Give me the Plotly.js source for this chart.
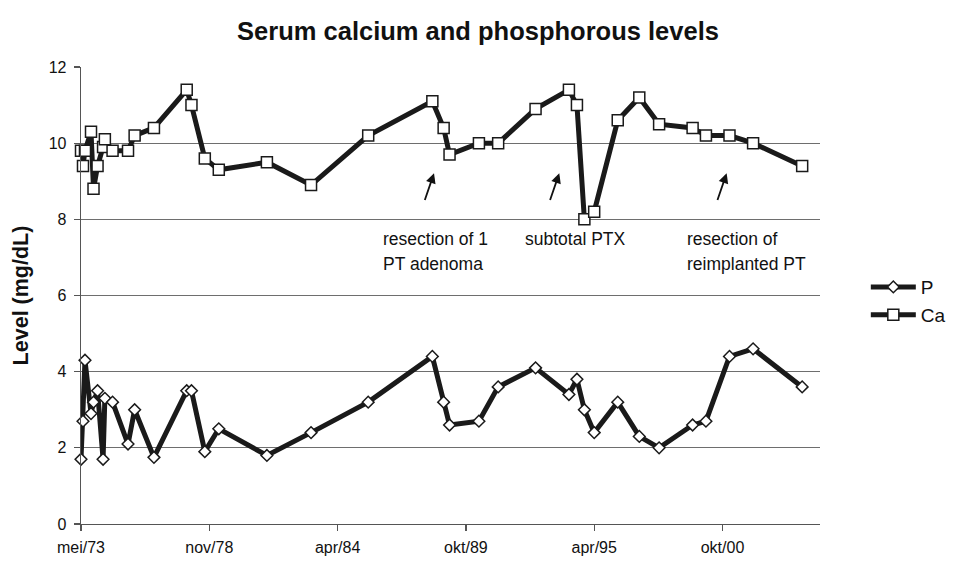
<!DOCTYPE html>
<html>
<head>
<meta charset="utf-8">
<script src="https://cdn.plot.ly/plotly-3.0.1.min.js"></script>
<style>html,body{margin:0;padding:0;background:#fff;}#chart{width:956px;height:572px;}</style>
</head>
<body>
<div id="chart"></div>
<script>
const dates = ["1973-05-17","1973-06-17","1973-07-18","1973-10-20","1973-11-28","1974-01-30","1974-04-26","1974-05-24","1974-09-21","1975-05-20","1975-08-31","1976-06-27","1977-11-20","1978-02-02","1978-08-29","1979-04-04","1981-04-23","1983-03-12","1985-08-19","1988-05-15","1988-11-07","1989-02-07","1990-05-11","1991-03-07","1992-10-10","1994-03-14","1994-07-17","1994-11-10","1995-04-12","1996-04-13","1997-03-15","1998-01-18","1999-06-24","2000-01-18","2001-01-19","2002-01-22","2004-02-26"];
// Phosphorous (mg/dL)
const phosphorous = [1.7,2.7,4.3,2.9,3.2,3.5,1.7,3.3,3.2,2.1,3.0,1.75,3.5,3.5,1.9,2.5,1.8,2.4,3.2,4.4,3.2,2.6,2.7,3.6,4.1,3.4,3.8,3.0,2.4,3.2,2.3,2.0,2.6,2.7,4.4,4.6,3.6];
// Calcium (mg/dL)
const calcium = [9.8,9.4,9.8,10.3,8.8,9.4,9.9,10.1,9.8,9.8,10.2,10.4,11.4,11.0,9.6,9.3,9.5,8.9,10.2,11.1,10.4,9.7,10.0,10.0,10.9,11.4,11.0,8.0,8.2,10.6,11.2,10.5,10.4,10.2,10.2,10.0,9.4];
// Axis ticks
const tickDates = ["1973-05-17","1978-11-07","1984-04-29","1989-10-20","1995-04-12","2000-10-02"];
const tickLabels = ["mei/73","nov/78","apr/84","okt/89","apr/95","okt/00"];
const seriesNames = ["P","Ca"];
const notes = [
  {text:"resection of 1", x:0.4056, y:0.624},
  {text:"PT adenoma", x:0.4056, y:0.570},
  {text:"subtotal PTX", x:0.5985, y:0.624},
  {text:"resection of", x:0.8173, y:0.624},
  {text:"reimplanted PT", x:0.8173, y:0.570}
];
const arrowTips = [0.4777, 0.6472, 0.8737];

const FONT = "Liberation Sans, Arial, sans-serif";
const ink = "#1a1a1a";

const traces = [
  {x: dates, y: phosphorous, name: seriesNames[0], type: "scatter", mode: "lines+markers",
   cliponaxis: false,
   line: {color: ink, width: 5},
   marker: {symbol: "diamond", size: 9, color: "#ffffff", line: {color: ink, width: 1.5}}},
  {x: dates, y: calcium, name: seriesNames[1], type: "scatter", mode: "lines+markers",
   cliponaxis: false,
   line: {color: ink, width: 5},
   marker: {symbol: "square", size: 11, color: "#ffffff", line: {color: ink, width: 1.5}}}
];

const annotations = notes.map(n => ({
  text: n.text, xref: "paper", yref: "paper", x: n.x, y: n.y,
  xanchor: "left", yanchor: "middle", showarrow: false,
  font: {family: FONT, size: 17.5, color: "#111"}
}));
arrowTips.forEach(px => annotations.push({
  text: "", xref: "paper", yref: "paper", x: px, y: 0.7677,
  showarrow: true, ax: -9.7, ay: 28.4, arrowhead: 2, arrowsize: 1.1,
  arrowwidth: 1.8, arrowcolor: "#111", standoff: 0, startstandoff: 0
}));

const layout = {
  width: 956, height: 572,
  margin: {l: 81, r: 136, t: 67, b: 48, autoexpand: false},
  paper_bgcolor: "#fff", plot_bgcolor: "#fff",
  font: {family: FONT, color: "#111", size: 16},
  title: {text: "<b>Serum calcium and phosphorous levels</b>", x: 0.5, xref: "container",
          y: 0.946, yref: "container", yanchor: "middle",
          font: {family: FONT, size: 25.5, color: "#111"}},
  xaxis: {type: "date", range: ["1973-05-17", "2004-11-30"],
          tickmode: "array", tickvals: tickDates, ticktext: tickLabels,
          showgrid: false, zeroline: false, showline: true, linecolor: "#555", linewidth: 1.3,
          ticks: "outside", ticklen: 6, tickcolor: "#555", tickwidth: 1.3,
          ticklabelstandoff: 2,
          tickfont: {family: FONT, size: 16, color: "#111"}},
  yaxis: {range: [0, 12], dtick: 2, tick0: 0,
          showgrid: true, gridcolor: "#6e6e6e", gridwidth: 1.3, zeroline: false,
          showline: true, linecolor: "#555", linewidth: 1.3,
          ticks: "outside", ticklen: 6, tickcolor: "#555", tickwidth: 1.3,
          ticklabelstandoff: 4,
          tickfont: {family: FONT, size: 16, color: "#111"},
          title: {text: "<b>Level (mg/dL)</b>", standoff: 14, font: {family: FONT, size: 21.5, color: "#111"}}},
  legend: {x: 1.062, xanchor: "left", y: 0.56, yanchor: "top", traceorder: "normal",
           itemwidth: 45, bgcolor: "rgba(0,0,0,0)",
           font: {family: FONT, size: 19, color: "#111"}},
  showlegend: true,
  annotations: annotations
};

Plotly.newPlot("chart", traces, layout, {staticPlot: true, displayModeBar: false});
</script>
</body>
</html>
